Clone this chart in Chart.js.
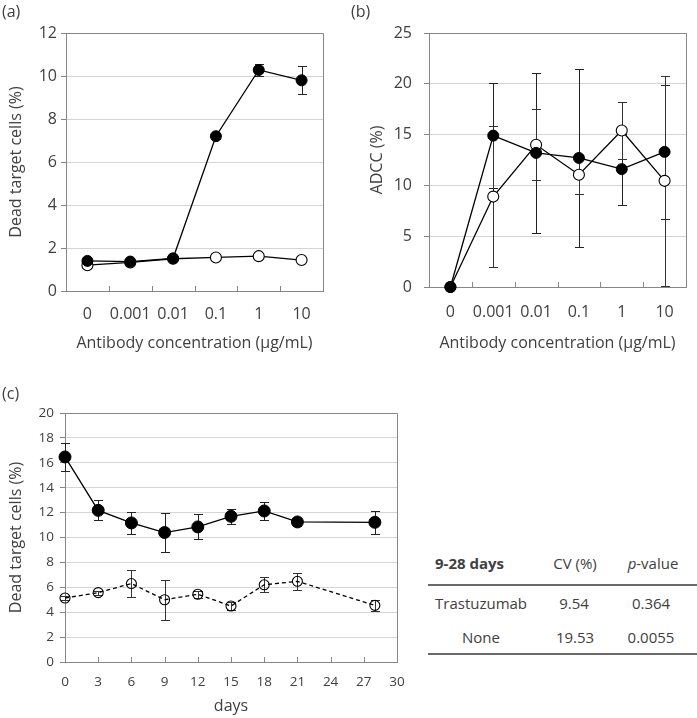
<!DOCTYPE html>
<html>
<head>
<meta charset="utf-8">
<script src="https://cdn.jsdelivr.net/npm/chart.js@4.4.1/dist/chart.umd.min.js"></script>
<style>
  body { margin: 0; background: #fff; }
  #wrap { position: relative; width: 697px; height: 718px; overflow: hidden; font-family: "Open Sans", sans-serif; color: #404040; }
  canvas { position: absolute; }
  .t { position: absolute; font-size: 15px; line-height: 18px; white-space: nowrap; }
  .c { transform: translateX(-50%); }
  .rule { position: absolute; left: 428px; width: 269px; height: 0; border-top: 2px solid #6a6a6a; }
</style>
</head>
<body>
<div id="wrap">
  <canvas id="chartA" width="348" height="360" style="left:0;top:0"></canvas>
  <canvas id="chartB" width="349" height="360" style="left:348px;top:0"></canvas>
  <canvas id="chartC" width="420" height="358" style="left:0;top:360px"></canvas>

  <div class="t" style="left:2px;top:2px;font-size:16px">(a)</div>
  <div class="t" style="left:351px;top:2px;font-size:16px">(b)</div>
  <div class="t" style="left:2px;top:384px;font-size:16px">(c)</div>

  <!-- summary table for panel (c) -->
  <div class="t" style="left:435px;top:554px;font-weight:bold">9-28 days</div>
  <div class="t c" style="left:575px;top:554px">CV (%)</div>
  <div class="t c" style="left:653px;top:554px"><i>p</i>-value</div>
  <div class="rule" style="top:584px"></div>
  <div class="t" style="left:435px;top:594px">Trastuzumab</div>
  <div class="t c" style="left:574px;top:594px">9.54</div>
  <div class="t c" style="left:651px;top:594px">0.364</div>
  <div class="t c" style="left:481px;top:628px">None</div>
  <div class="t c" style="left:575px;top:628px">19.53</div>
  <div class="t c" style="left:651px;top:628px">0.0055</div>
  <div class="rule" style="top:653px"></div>
</div>

<script>
// ---- data ----
var concLabels = ['0', '0.001', '0.01', '0.1', '1', '10'];

var aFilled    = [1.40, 1.37, 1.52, 7.20, 10.28, 9.80];
var aFilledErr = [0.10, 0.10, 0.10, 0.15, 0.28, 0.65];
var aOpen      = [1.20, 1.33, 1.50, 1.56, 1.62, 1.44];
var aOpenErr   = [0.08, 0.08, 0.08, 0.08, 0.08, 0.08];

var bFilled    = [0, 14.9, 13.2, 12.7, 11.6, 13.3];
var bFilledErr = [0, 5.2, 7.9, 8.8, 3.5, 6.6];
var bOpen      = [0, 8.9, 14.0, 11.05, 15.4, 10.45];
var bOpenErr   = [0, 6.9, 3.5, 1.9, 2.8, 10.35];

var days       = [0, 3, 6, 9, 12, 15, 18, 21, 28];
var cFilled    = [16.47, 12.18, 11.17, 10.40, 10.85, 11.70, 12.13, 11.25, 11.22];
var cFilledErr = [1.15, 0.80, 0.85, 1.60, 1.00, 0.60, 0.70, 0.35, 0.90];
var cOpen      = [5.14, 5.57, 6.30, 5.00, 5.44, 4.50, 6.20, 6.48, 4.55];
var cOpenErr   = [0.15, 0.15, 1.07, 1.60, 0.30, 0.35, 0.60, 0.70, 0.45];

var AXIS = '#868686';
var GRID = '#d4d4d4';
var TEXT = '#404040';
var FONT = '"Open Sans", sans-serif';

function pts(xs, ys) {
  return ys.map(function (v, i) { return { x: xs[i], y: v }; });
}

// error bars under the markers, inward x ticks, top/right frame
var decor = {
  id: 'decor',
  beforeDatasetsDraw: function (chart) {
    var ctx = chart.ctx, a = chart.chartArea, xs = chart.scales.x, ys = chart.scales.y;
    ctx.save();
    ctx.lineWidth = 1;
    ctx.strokeStyle = AXIS;
    ctx.beginPath();
    ctx.moveTo(Math.round(a.left), Math.round(a.top) + 0.5);
    ctx.lineTo(Math.round(a.right) + 0.5, Math.round(a.top) + 0.5);
    ctx.lineTo(Math.round(a.right) + 0.5, Math.round(a.bottom));
    // inward tick marks on the x axis
    var marks = [];
    if (xs.type === 'category') {
      for (var i = 1; i < xs.ticks.length; i++) {
        marks.push((xs.getPixelForValue(i - 1) + xs.getPixelForValue(i)) / 2);
      }
    } else {
      xs.ticks.forEach(function (t) {
        if (t.value > xs.min && t.value < xs.max) marks.push(xs.getPixelForValue(t.value));
      });
    }
    marks.forEach(function (px) {
      var x = Math.round(px) + 0.5;
      ctx.moveTo(x, Math.round(a.bottom));
      ctx.lineTo(x, Math.round(a.bottom) - 5);
    });
    ctx.stroke();

    var cap = chart.options.plugins.decor.cap || 4.5;
    chart.data.datasets.forEach(function (ds) {
      if (!ds.errorBars) return;
      ctx.strokeStyle = ds.errorColor || '#333';
      ctx.beginPath();
      ds.data.forEach(function (d, i) {
        var e = ds.errorBars[i];
        if (!e) return;
        var v = typeof d === 'object' ? d.y : d;
        var xv = typeof d === 'object' ? d.x : i;
        var x = Math.round(xs.getPixelForValue(xv)) + 0.5;
        var y1 = Math.round(ys.getPixelForValue(v + e)) + 0.5;
        var y2 = Math.round(ys.getPixelForValue(v - e)) + 0.5;
        ctx.moveTo(x, y1); ctx.lineTo(x, y2);
        ctx.moveTo(x - cap, y1); ctx.lineTo(x + cap, y1);
        ctx.moveTo(x - cap, y2); ctx.lineTo(x + cap, y2);
      });
      ctx.stroke();
    });
    ctx.restore();
  }
};

function yAxis(max, step, title, opts) {
  return {
    min: 0, max: max,
    afterFit: function (s) { s.width = opts.width; },
    ticks: { stepSize: step, color: TEXT, padding: opts.pad, font: { family: FONT, size: opts.size } },
    grid: {
      color: function (c) { return c.tick && c.tick.value === max ? AXIS : GRID; },
      tickColor: AXIS, tickLength: 5, lineWidth: 1
    },
    border: { color: AXIS, width: 1 },
    title: { display: true, text: title, color: TEXT, font: { family: FONT, size: 16 }, padding: { top: opts.titlePad, bottom: 0 } }
  };
}

function baseOptions(xScale, yScale, pad) {
  return {
    responsive: false,
    animation: false,
    events: [],
    layout: { padding: pad },
    plugins: { legend: { display: false }, tooltip: { enabled: false }, decor: { cap: 4.5 } },
    scales: { x: xScale, y: yScale }
  };
}

function filledSet(data, err, r) {
  return {
    data: data, errorBars: err, errorColor: '#222',
    borderColor: '#000', borderWidth: 1.3, tension: 0,
    pointRadius: r, pointBackgroundColor: '#000', pointBorderColor: '#000', pointBorderWidth: 1,
    clip: false
  };
}

function openSet(data, err, r, fill, dash) {
  return {
    data: data, errorBars: err, errorColor: '#333',
    borderColor: '#000', borderWidth: 1.3, borderDash: dash || [], tension: 0,
    pointRadius: r, pointBackgroundColor: fill, pointBorderColor: '#000', pointBorderWidth: 1.1,
    clip: false
  };
}

function catX(height, pad) {
  return {
    type: 'category',
    offset: true,
    afterFit: function (s) { s.height = height; },
    grid: { display: false, drawTicks: false },
    border: { color: AXIS, width: 1 },
    ticks: { color: TEXT, padding: pad, maxRotation: 0, autoSkip: false, font: { family: FONT, size: 16 } },
    title: { display: true, text: 'Antibody concentration (\u00b5g/mL)', color: TEXT, font: { family: FONT, size: 16 }, padding: { top: 0, bottom: 7 } }
  };
}

// (a)
new Chart(document.getElementById('chartA'), {
  type: 'line',
  data: {
    labels: concLabels,
    datasets: [filledSet(aFilled, aFilledErr, 5.5), openSet(aOpen, aOpenErr, 5.5, '#fff')]
  },
  options: baseOptions(
    catX(69, 14),
    yAxis(12, 2, 'Dead target cells (%)', { width: 66, pad: 4, size: 16, titlePad: 7 }),
    { top: 33, right: 25, left: 0, bottom: 0 }
  ),
  plugins: [decor]
});

// (b)
new Chart(document.getElementById('chartB'), {
  type: 'line',
  data: {
    labels: concLabels,
    datasets: [filledSet(bFilled, bFilledErr, 5.5), openSet(bOpen, bOpenErr, 5.5, '#fff')]
  },
  options: baseOptions(
    catX(73, 16),
    yAxis(25, 5, 'ADCC (%)', { width: 81, pad: 12, size: 16, titlePad: 20 }),
    { top: 33, right: 11, left: 0, bottom: 0 }
  ),
  plugins: [decor]
});

// (c)
new Chart(document.getElementById('chartC'), {
  type: 'line',
  data: {
    datasets: [
      filledSet(pts(days, cFilled), cFilledErr, 6),
      openSet(pts(days, cOpen), cOpenErr, 5, 'rgba(255,255,255,0)', [4, 3])
    ]
  },
  options: baseOptions(
    {
      type: 'linear', min: 0, max: 30,
      afterFit: function (s) { s.height = 56; },
      grid: { display: false, drawTicks: false },
      border: { color: AXIS, width: 1 },
      ticks: { stepSize: 3, color: TEXT, padding: 12, maxRotation: 0, font: { family: FONT, size: 13.5 } },
      title: { display: true, text: 'days', color: TEXT, font: { family: FONT, size: 16 }, padding: { top: 0, bottom: 2 } }
    },
    yAxis(20, 2, 'Dead target cells (%)', { width: 65, pad: 6, size: 13.5, titlePad: 7 }),
    { top: 53, right: 23, left: 0, bottom: 0 }
  ),
  plugins: [decor]
});
</script>
</body>
</html>
